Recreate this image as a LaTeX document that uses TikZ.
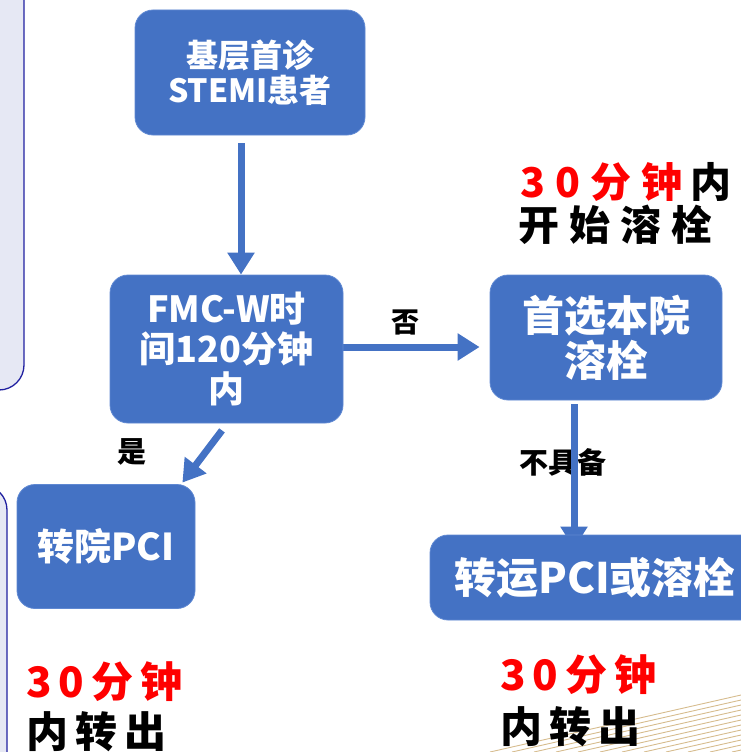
\documentclass[tikz,border=0pt]{standalone}
\usepackage{fontspec}
\setmainfont{Noto Sans CJK SC}
\newfontfamily\spacedA{Noto Sans CJK SC}[LetterSpace=25]
\newfontfamily\spacedB{Noto Sans CJK SC}[LetterSpace=17]
\usetikzlibrary{arrows.meta,backgrounds}
\definecolor{boxblue}{HTML}{4472C4}
\definecolor{boxedge}{HTML}{5F88D2}
\definecolor{panelfill}{HTML}{E6E8F4}
\definecolor{paneledge}{HTML}{2020A0}
\definecolor{stripecol}{HTML}{D6BC8E}
\definecolor{hotred}{HTML}{FF0000}
\begin{document}
\begin{tikzpicture}[x=1pt,y=-1pt,
  box/.style={rounded corners=18pt, fill=boxblue, draw=boxedge, line width=0.8pt, text=white, align=center, inner sep=0pt},
  arr/.style={draw=boxblue, line width=7pt, -{Triangle[width=26pt,length=22pt]}},
  lbl/.style={text=black, inner sep=0pt},
  panel/.style={fill=panelfill, draw=paneledge, line width=1.3pt, rounded corners=25pt},
  stripe/.style={draw=stripecol, line width=0.9pt},
  bigA/.style={inner sep=0pt, anchor=west, font=\spacedA\bfseries\fontsize{41}{45}\selectfont},
  bigB/.style={inner sep=0pt, anchor=west, font=\spacedB\bfseries\fontsize{42}{46}\selectfont}]
\useasboundingbox (0,0) rectangle (741,752);
\begin{scope}
\clip (0,0) rectangle (741,752);
% side panels
\draw[panel] (-60,-60) rectangle (24,390);
\draw[panel] (-60,485) rectangle (7,820);
% decorative stripes
\foreach \i in {0,...,11} \draw[stripe] ({490+22*\i},752) -- (741,{695+5*\i});
% boxes
\node[box, minimum width=230pt, minimum height=125pt, font=\bfseries\fontsize{32}{35}\selectfont] (b1) at (250,72.5) {基层首诊\\STEMI患者};
\node[box, minimum width=233pt, minimum height=148pt, font=\bfseries\fontsize{36}{40}\selectfont] (b2) at (226.5,349) {FMC-W时\\间120分钟\\内};
\node[box, minimum width=232pt, minimum height=125pt, font=\bfseries\fontsize{42}{45}\selectfont] (b3) at (606,337.5) {首选本院\\溶栓};
\node[box, minimum width=178pt, minimum height=124pt, font=\bfseries\fontsize{37}{40}\selectfont] (b4) at (106,546.5) {转院PCI};
\node[box, minimum width=330pt, minimum height=85pt, font=\bfseries\fontsize{42}{45}\selectfont] (b5) at (595,577.5) {转运PCI或溶栓};
% labels
\node[lbl, font=\bfseries\fontsize{28}{30}\selectfont] (no) at (405,322) {否};
\node[lbl, font=\bfseries\fontsize{29}{30}\selectfont] (yes) at (132,452) {是};
% time notes
\node[bigA] (tr1) at (520,182) {\textcolor{hotred}{30分钟}\hspace{8pt}内};
\node[bigA] (tr2) at (518,225) {开始溶栓};
\node[bigB] (bl1) at (26,682) {\textcolor{hotred}{30分钟}};
\node[bigB] (bl2) at (26,732) {内转出};
\node[bigB] (br1) at (500,675) {\textcolor{hotred}{30分钟}};
\node[bigB] (br2) at (500,727) {内转出};
\end{scope}
\begin{scope}[on background layer]
\node[lbl, font=\bfseries\fontsize{29}{30}\selectfont] (lack) at (563,462) {不具备};
\draw[arr] ([xshift=-9pt,yshift=-8pt]b1.south) -- ([xshift=14.5pt]b2.north);
\draw[arr] ([yshift=2pt]b2.east) -- ([xshift=-10pt,yshift=-9.5pt]b3.west);
\draw[arr] ([xshift=-4.5pt,yshift=-7pt]b2.south) -- ([xshift=-13pt,yshift=1.5pt]b4.north east);
\draw[arr] ([xshift=-32pt,yshift=-4pt]b3.south) -- ([xshift=-21pt,yshift=-14pt]b5.north);
\end{scope}
\end{tikzpicture}
\end{document}
